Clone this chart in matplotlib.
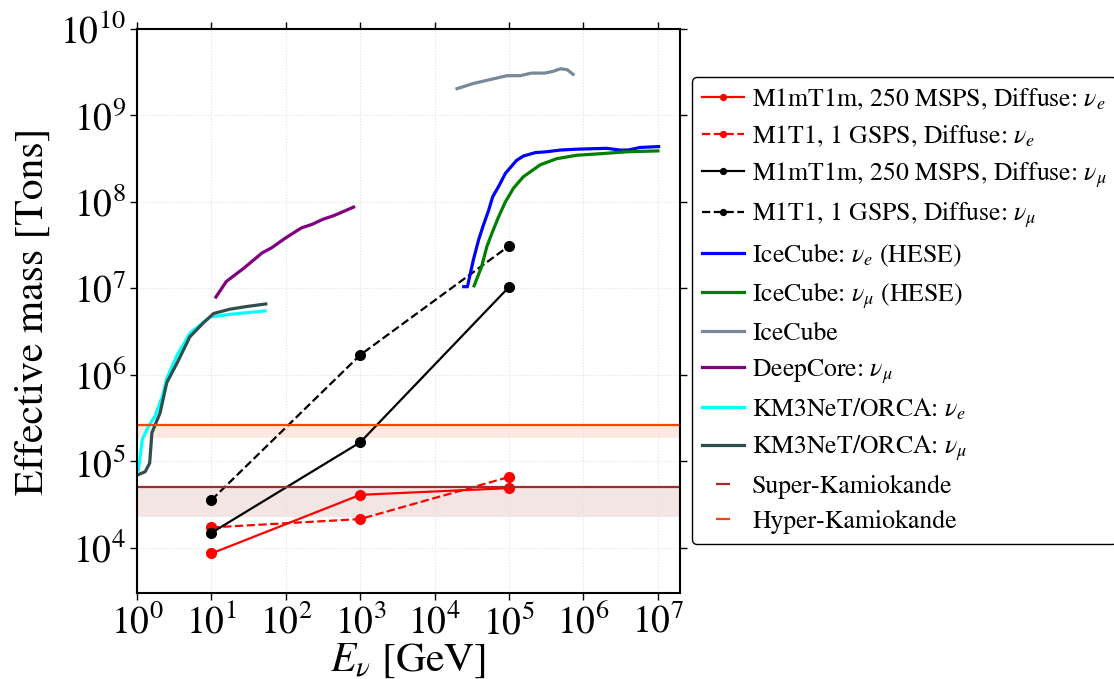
import numpy as np
import matplotlib.pyplot as plt
from matplotlib.lines import Line2D

plt.rcParams['font.family'] = ['STIXGeneral', 'DejaVu Serif']
plt.rcParams['mathtext.fontset'] = 'stix'

# simulated detector points (E in GeV, mass in tons)
E_sim = [1e1, 1e3, 1e5]
m1mt1m_e = [8.6e3, 4.1e4, 4.9e4]
m1t1_e = [1.72e4, 2.15e4, 6.6e4]
m1mt1m_mu = [1.49e4, 1.66e5, 1.04e7]
m1t1_mu = [3.57e4, 1.7e6, 3.1e7]

# reference experiments, stored as log10(E/GeV), log10(M/ton)
hese_e_logE = [4.39, 4.44, 4.52, 4.59, 4.65, 4.72, 4.78, 4.86, 4.95, 5.01, 5.10, 5.19,
               5.35, 5.50, 5.69, 5.91, 6.31, 6.49, 6.60, 6.76, 7.01]
hese_e_logM = [7.02, 7.02, 7.33, 7.56, 7.72, 7.89, 8.06, 8.18, 8.33, 8.39, 8.48, 8.53,
               8.57, 8.58, 8.60, 8.61, 8.62, 8.60, 8.60, 8.63, 8.64]
hese_mu_logE = [4.53, 4.63, 4.70, 4.77, 4.86, 4.95, 5.06, 5.19, 5.42, 5.64, 5.91, 6.27,
                6.58, 7.00]
hese_mu_logM = [7.03, 7.25, 7.48, 7.64, 7.83, 8.00, 8.16, 8.29, 8.43, 8.50, 8.54, 8.56,
                8.58, 8.59]
icecube_logE = [4.30, 4.52, 4.77, 4.97, 5.15, 5.30, 5.48, 5.59, 5.69, 5.78, 5.86]
icecube_logM = [9.31, 9.37, 9.42, 9.46, 9.46, 9.49, 9.49, 9.51, 9.54, 9.53, 9.475]
deepcore_logE = [1.06, 1.20, 1.43, 1.68, 1.81, 1.99, 2.21, 2.35, 2.50, 2.64, 2.91]
deepcore_logM = [6.90, 7.08, 7.23, 7.41, 7.47, 7.58, 7.70, 7.74, 7.80, 7.84, 7.94]
orca_e_logE = [0.02, 0.07, 0.15, 0.24, 0.34, 0.40, 0.54, 0.71, 0.98, 1.25, 1.72]
orca_e_logM = [4.90, 5.25, 5.40, 5.52, 5.75, 5.96, 6.23, 6.48, 6.67, 6.70, 6.74]
orca_mu_logE = [0.0, 0.11, 0.17, 0.20, 0.31, 0.40, 0.54, 0.71, 0.89, 1.03, 1.25, 1.47, 1.73]
orca_mu_logM = [4.84, 4.88, 4.98, 5.33, 5.56, 5.91, 6.14, 6.44, 6.60, 6.71, 6.76, 6.79, 6.82]

superk = 5.0e4
superk_low = 2.25e4
hyperk = 2.6e5
hyperk_low = 1.88e5

fig = plt.figure(figsize=(11.14, 6.79), dpi=100)
ax = fig.add_axes([0.123, 0.127, 0.4874, 0.8303])

ax.plot(E_sim, m1mt1m_e, '-o', color='red', lw=1.6, ms=7,
        label=r'M1mT1m, 250 MSPS, Diffuse: $\nu_e$')
ax.plot(E_sim, m1t1_e, '--o', color='red', lw=1.6, ms=7,
        label=r'M1T1, 1 GSPS, Diffuse: $\nu_e$')
ax.plot(E_sim, m1mt1m_mu, '-o', color='black', lw=1.6, ms=7,
        label=r'M1mT1m, 250 MSPS, Diffuse: $\nu_\mu$')
ax.plot(E_sim, m1t1_mu, '--o', color='black', lw=1.6, ms=7,
        label=r'M1T1, 1 GSPS, Diffuse: $\nu_\mu$')

def lg(a):
    return 10 ** np.array(a)

ax.plot(lg(hese_e_logE), lg(hese_e_logM), color='blue', lw=2.3, label=r'IceCube: $\nu_e$ (HESE)')
ax.plot(lg(hese_mu_logE), lg(hese_mu_logM), color='green', lw=2.3, label=r'IceCube: $\nu_\mu$ (HESE)')
ax.plot(lg(icecube_logE), lg(icecube_logM), color='lightslategray', lw=2.3, label='IceCube')
ax.plot(lg(deepcore_logE), lg(deepcore_logM), color='purple', lw=2.3, label=r'DeepCore: $\nu_\mu$')
ax.plot(lg(orca_e_logE), lg(orca_e_logM), color='cyan', lw=2.3, label=r'KM3NeT/ORCA: $\nu_e$')
ax.plot(lg(orca_mu_logE), lg(orca_mu_logM), color='darkslategray', lw=2.3, label=r'KM3NeT/ORCA: $\nu_\mu$')

ax.axhline(superk, color='brown', lw=1.6)
ax.axhspan(superk_low, superk, color='brown', alpha=0.12, lw=0)
ax.axhline(hyperk, color='orangered', lw=1.6)
ax.axhspan(hyperk_low, hyperk, color='orangered', alpha=0.12, lw=0)

ax.set_xscale('log')
ax.set_yscale('log')
ax.set_xlim(1, 1.98e7)
ax.set_ylim(3.02e3, 1e10)
ax.set_xticks([10.0 ** k for k in range(8)])
ax.set_yticks([10.0 ** k for k in range(4, 11)])
ax.minorticks_off()
ax.tick_params(which='major', direction='out', top=True, right=True,
               labelsize=27, length=5, width=1, pad=3)
ax.grid(True, which='major', ls=':', color='#e2e2e2', lw=0.8)
for s in ax.spines.values():
    s.set_linewidth(1.5)

ax.set_xlabel(r'$E_\nu$ [GeV]', fontsize=30, labelpad=0)
ax.set_ylabel('Effective mass [Tons]', fontsize=30, labelpad=6)

handles, labels = ax.get_legend_handles_labels()
handles += [Line2D([], [], ls='none', marker='_', ms=17, mew=1.6, color='brown'),
            Line2D([], [], ls='none', marker='_', ms=17, mew=1.6, color='orangered')]
labels += ['Super-Kamiokande', 'Hyper-Kamiokande']
leg = ax.legend(handles, labels, loc='upper left', bbox_to_anchor=(0.621, 0.887),
                bbox_transform=fig.transFigure, borderaxespad=0, fontsize=18.5,
                markerscale=0.6, handlelength=1.65, handletextpad=0.3,
                labelspacing=0.44, frameon=True, fancybox=True, framealpha=1,
                edgecolor='black')
leg.get_frame().set_linewidth(1.0)

fig.savefig('out.png', dpi=100)
